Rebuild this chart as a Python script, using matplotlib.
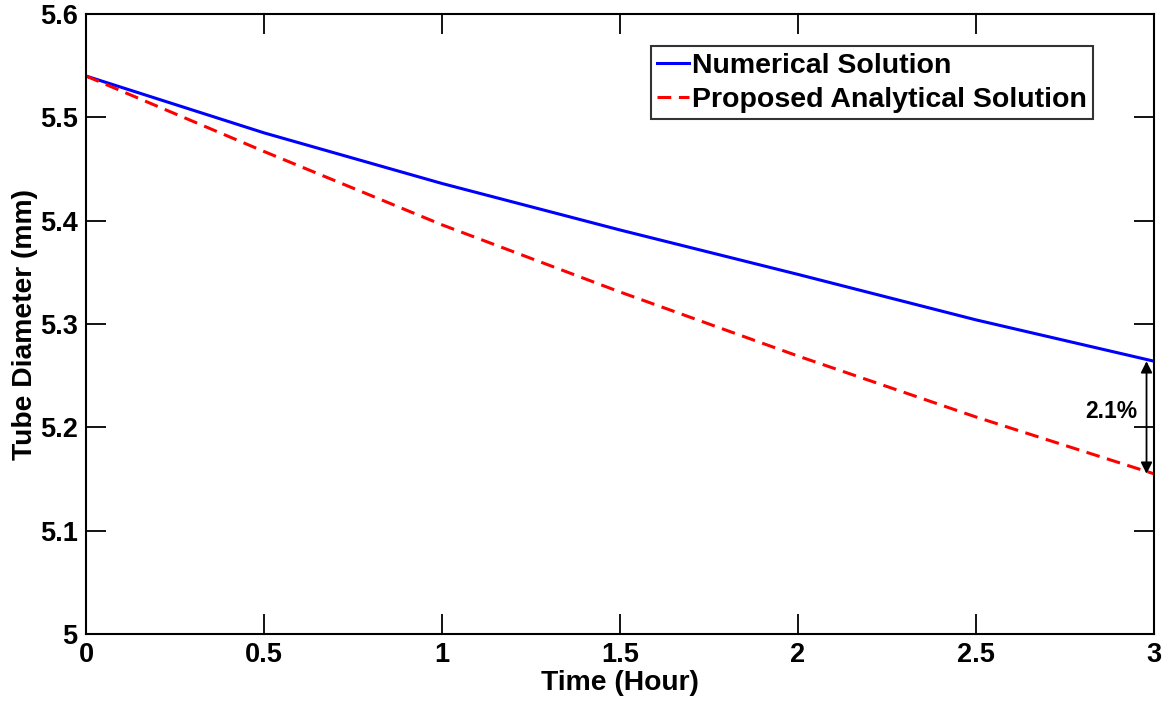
import matplotlib
matplotlib.use("Agg")
import matplotlib.pyplot as plt
from matplotlib.ticker import FuncFormatter

plt.rcParams['font.family'] = ['Liberation Sans', 'DejaVu Sans']
plt.rcParams['font.weight'] = 'bold'

time_h = [0.0, 0.5, 1.0, 1.5, 2.0, 2.5, 3.0]
numerical = [5.540, 5.485, 5.436, 5.391, 5.348, 5.304, 5.264]
analytical = [5.540, 5.467, 5.396, 5.331, 5.269, 5.210, 5.155]
x_ticks = [0, 0.5, 1, 1.5, 2, 2.5, 3]
y_ticks = [5.0, 5.1, 5.2, 5.3, 5.4, 5.5, 5.6]
annot_text = "2.1%"

fig = plt.figure(figsize=(11.73, 7.01), dpi=100)
ax = fig.add_axes([0.0733, 0.0956, 0.9105, 0.8844])

ax.plot(time_h, numerical, color='#0000ff', lw=2.2, label='Numerical Solution')
ax.plot(time_h, analytical, color='#ff0000', lw=2.2, ls=(0, (4.5, 2.5)), label='Proposed Analytical Solution')

ax.set_xlim(0, 3)
ax.set_ylim(5.0, 5.6)
ax.set_xticks(x_ticks)
ax.set_yticks(y_ticks)
fmt = FuncFormatter(lambda v, p: f"{v:g}")
ax.xaxis.set_major_formatter(fmt)
ax.yaxis.set_major_formatter(fmt)
ax.tick_params(direction='in', length=14.5, width=1.3, labelsize=19.5,
               top=True, right=True, pad=6)
for lab in ax.get_xticklabels() + ax.get_yticklabels():
    lab.set_fontweight('bold')
for s in ax.spines.values():
    s.set_linewidth(1.5)

ax.set_xlabel('Time (Hour)', fontsize=20.3, fontweight='bold')
ax.set_ylabel('Tube Diameter (mm)', fontsize=20.3, fontweight='bold')
ax.xaxis.set_label_coords(0.5, -0.079)
ax.yaxis.set_label_coords(-0.057, 0.5)
ax.xaxis.label.set_va('center')
ax.yaxis.label.set_va('center')

# annotation double arrow
x_arrow = 2.979
ax.annotate('', xy=(x_arrow, numerical[-1]), xytext=(x_arrow, analytical[-1]),
            arrowprops=dict(arrowstyle='<|-|>', color='black', lw=1.3,
                            mutation_scale=17, shrinkA=0, shrinkB=0))
ax.text(2.881, 5.2151, annot_text, fontsize=16.5, fontweight='bold',
        ha='center', va='center')

leg = ax.legend(loc='upper right', bbox_to_anchor=(0.943, 0.948), fontsize=20.5,
                frameon=True, fancybox=False, edgecolor='black',
                handlelength=1.12, handletextpad=0.1, borderpad=0.22,
                labelspacing=0.3, borderaxespad=0)
leg.get_frame().set_linewidth(1.5)
for t in leg.get_texts():
    t.set_fontweight('bold')

fig.savefig('out.png', dpi=100)
